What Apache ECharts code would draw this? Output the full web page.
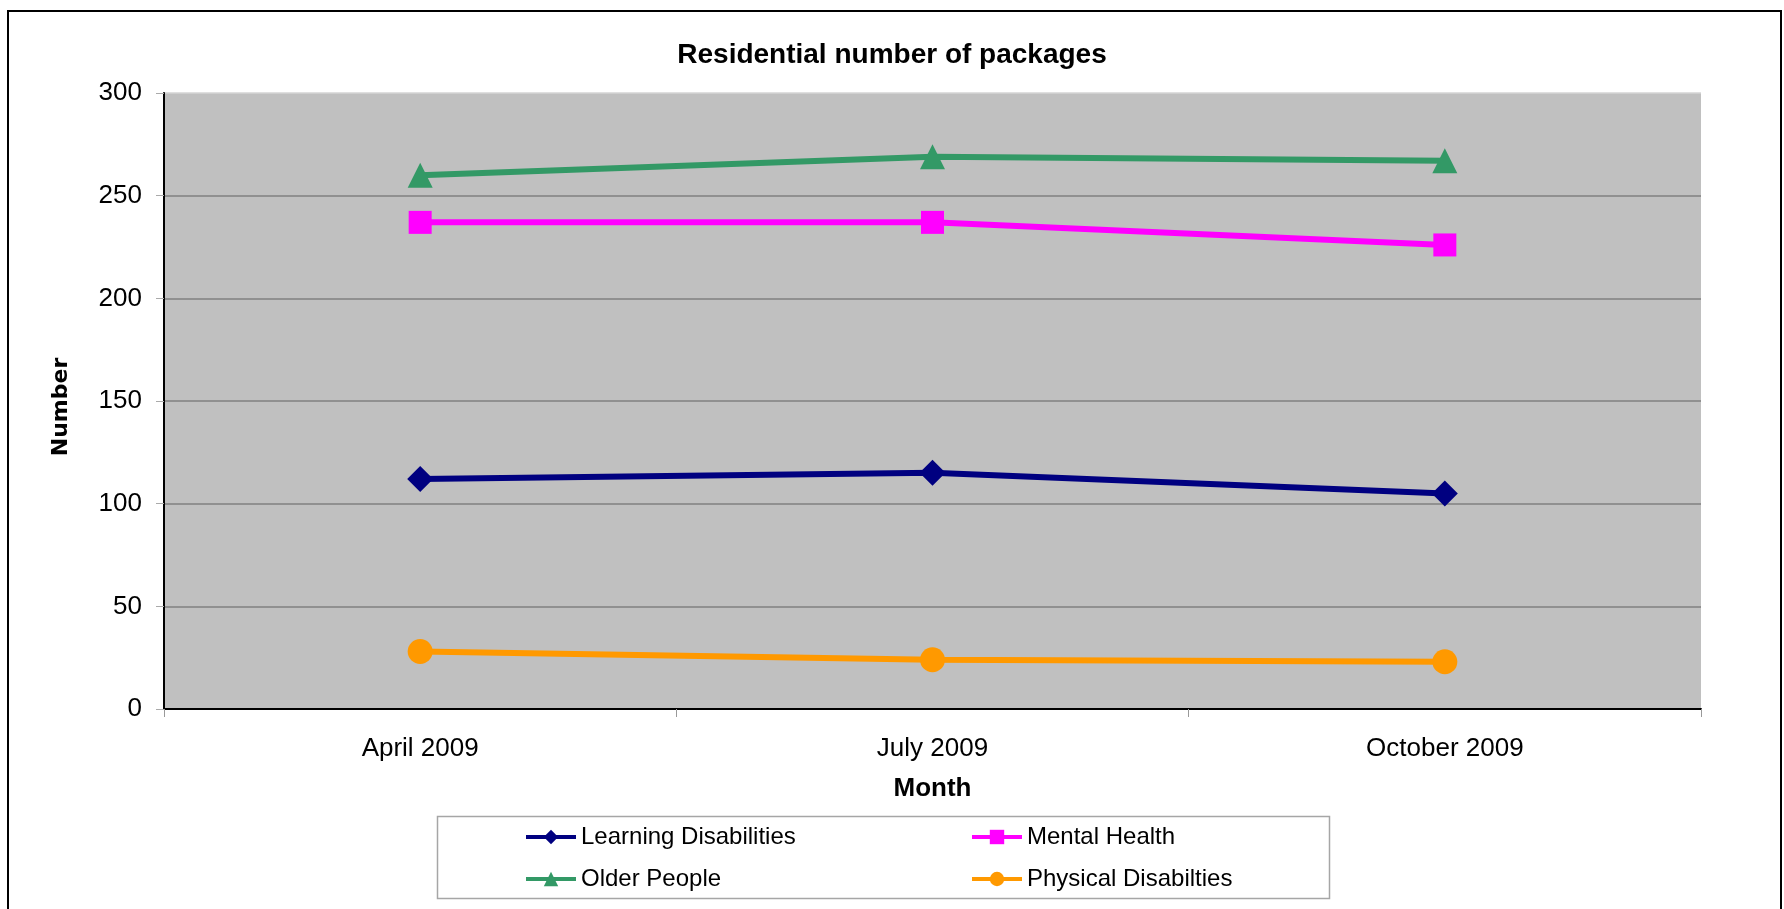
<!DOCTYPE html>
<html>
<head>
<meta charset="utf-8">
<script src="https://cdn.jsdelivr.net/npm/echarts@6/dist/echarts.min.js"></script>
<style>
html,body{margin:0;padding:0;background:#fff;}
#chart{width:1784px;height:909px;}
</style>
</head>
<body>
<div id="chart"></div>
<script>
const categories = ['April 2009', 'July 2009', 'October 2009'];
const learningDisabilities = [112, 115, 105];
const mentalHealth = [237, 237, 226];
const olderPeople = [260, 269, 267];
const physicalDisabilities = [28, 24, 23];
const seriesNames = ['Learning Disabilities', 'Mental Health', 'Older People', 'Physical Disabilties'];

const FONT = '"Liberation Sans", Arial, sans-serif';
const chart = echarts.init(document.getElementById('chart'), null, {renderer: 'canvas'});

function lineSeries(name, data, color, symbol, size) {
  return {
    name: name, type: 'line', data: data,
    symbol: symbol, symbolSize: size,
    lineStyle: {color: color, width: 6},
    itemStyle: {color: color},
    z: 3
  };
}

const legendCommon = {
  orient: 'vertical', top: 820, itemGap: 18,
  itemWidth: 50, itemHeight: 18,
  lineStyle: {width: 4},
  textStyle: {fontFamily: FONT, fontSize: 24, color: '#000'}
};

const option = {
  animation: false,
  backgroundColor: '#ffffff',
  title: {
    text: 'Residential number of packages',
    left: 'center', top: 36,
    textStyle: {fontFamily: FONT, fontSize: 28, fontWeight: 'bold', color: '#000'}
  },
  grid: {
    left: 164, right: 83, top: 93, bottom: 200,
    show: true, backgroundColor: '#C0C0C0', borderWidth: 0
  },
  xAxis: {
    type: 'category', data: categories, boundaryGap: true,
    name: 'Month', nameLocation: 'middle', nameGap: 67,
    nameTextStyle: {fontFamily: FONT, fontSize: 26, fontWeight: 'bold', color: '#000'},
    axisLine: {lineStyle: {color: '#000', width: 2}},
    axisTick: {show: true, length: 8, lineStyle: {color: '#999'}},
    axisLabel: {fontFamily: FONT, fontSize: 26, color: '#000', margin: 27},
    splitLine: {show: false}
  },
  yAxis: {
    type: 'value', min: 0, max: 300, interval: 50,
    name: 'Number', nameLocation: 'middle', nameGap: 92, nameRotate: 90,
    nameTextStyle: {fontFamily: '"DejaVu Sans", Verdana, sans-serif', fontSize: 22, fontWeight: 'bold', color: '#000', padding: [0, 12, 0, 0]},
    axisLine: {show: true, lineStyle: {color: '#000', width: 2}},
    axisTick: {show: true, length: 8, lineStyle: {color: '#aaa'}},
    axisLabel: {fontFamily: FONT, fontSize: 26, color: '#000', margin: 22},
    splitLine: {show: true, lineStyle: {color: ['#808080','#808080','#808080','#808080','#808080','#808080','#d4d4d4'], width: 1.5}}
  },
  legend: [
    Object.assign({data: [seriesNames[0], seriesNames[2]], left: 519}, legendCommon),
    Object.assign({data: [seriesNames[1], seriesNames[3]], left: 965}, legendCommon)
  ],
  graphic: [
    {type: 'rect', shape: {x: 8, y: 11, width: 1773, height: 1000}, style: {fill: null, stroke: '#000', lineWidth: 2}, silent: true, z: 100},
    {type: 'rect', shape: {x: 437.5, y: 816.5, width: 892, height: 82}, style: {fill: null, stroke: '#a6a6a6', lineWidth: 1.5}, silent: true, z: 100}
  ],
  series: [
    lineSeries(seriesNames[0], learningDisabilities, '#000080', 'diamond', 26),
    lineSeries(seriesNames[1], mentalHealth, '#FF00FF', 'rect', 23),
    lineSeries(seriesNames[2], olderPeople, '#339966', 'triangle', 25),
    lineSeries(seriesNames[3], physicalDisabilities, '#FF9900', 'circle', 25)
  ]
};
chart.setOption(option);
</script>
</body>
</html>
